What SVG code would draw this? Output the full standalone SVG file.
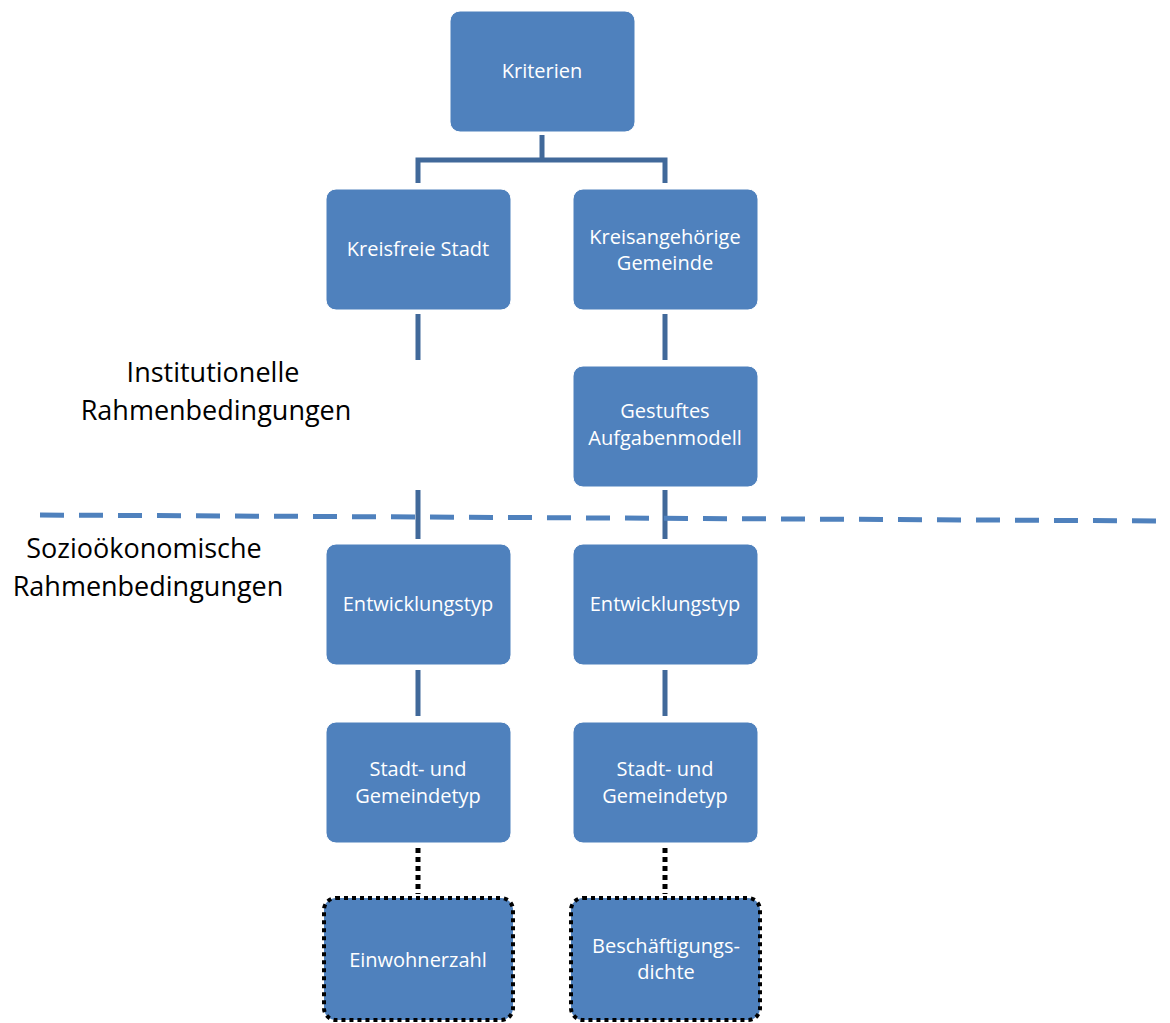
<svg xmlns="http://www.w3.org/2000/svg" width="1170" height="1023" viewBox="0 0 1170 1023">
<style>
.box{fill:#4F81BD;stroke:#ffffff;stroke-width:1}
.dotbox{fill:#4F81BD;stroke:#000000;stroke-width:4;stroke-dasharray:4 4}
.nt{font-family:"Open Sans","Liberation Sans",sans-serif;font-size:20px;fill:#ffffff;text-anchor:middle}
.lbl{font-family:"Open Sans","Liberation Sans",sans-serif;font-size:27px;fill:#000000;text-anchor:middle}
.con{stroke:#41699A;stroke-width:5;fill:none}
.dot{stroke:#000000;stroke-width:5;stroke-dasharray:5 4;fill:none}
.sep{stroke:#4F81BD;stroke-width:5;stroke-dasharray:24 15;fill:none}
</style>
<rect width="1170" height="1023" fill="#ffffff"/>
<g id="connectors">
<path class="con" d="M542 135 V160 M418 183 V160 H665 V183"/>
<path class="con" d="M418 314 V360 M418 490 V539"/>
<path class="con" d="M665 314 V360 M665 490 V539"/>
<path class="con" d="M418 670 V716 M665 670 V716"/>
<path class="dot" d="M418 848 V894 M665 848 V894"/>
</g>
<line id="separator" class="sep" x1="40" y1="515" x2="1170" y2="521"/>
<g id="label-institutionell">
<text class="lbl" x="213" y="382">Institutionelle</text>
<text class="lbl" x="216" y="420">Rahmenbedingungen</text>
</g>
<g id="label-soziooekonomisch">
<text class="lbl" x="144" y="558">Sozioökonomische</text>
<text class="lbl" x="148" y="596">Rahmenbedingungen</text>
</g>
<g id="n-kriterien"><rect class="box" x="450" y="11" width="185" height="121" rx="10"/><text class="nt" x="542" y="78">Kriterien</text></g>
<g id="n-kreisfrei"><rect class="box" x="326" y="189" width="185" height="121" rx="10"/><text class="nt" x="418" y="256">Kreisfreie Stadt</text></g>
<g id="n-kreisangehoerig"><rect class="box" x="573" y="189" width="185" height="121" rx="10"/><text class="nt" x="665" y="244">Kreisangehörige</text><text class="nt" x="665" y="270">Gemeinde</text></g>
<g id="n-gestuft"><rect class="box" x="573" y="366" width="185" height="121" rx="10"/><text class="nt" x="665" y="418">Gestuftes</text><text class="nt" x="665" y="445">Aufgabenmodell</text></g>
<g id="n-entw-l"><rect class="box" x="326" y="544" width="185" height="121" rx="10"/><text class="nt" x="418" y="611">Entwicklungstyp</text></g>
<g id="n-entw-r"><rect class="box" x="573" y="544" width="185" height="121" rx="10"/><text class="nt" x="665" y="611">Entwicklungstyp</text></g>
<g id="n-stadt-l"><rect class="box" x="326" y="722" width="185" height="121" rx="10"/><text class="nt" x="418" y="776">Stadt- und</text><text class="nt" x="418" y="803">Gemeindetyp</text></g>
<g id="n-stadt-r"><rect class="box" x="573" y="722" width="185" height="121" rx="10"/><text class="nt" x="665" y="776">Stadt- und</text><text class="nt" x="665" y="803">Gemeindetyp</text></g>
<g id="n-einwohner"><rect class="dotbox" x="324" y="898" width="189" height="122" rx="12"/><text class="nt" x="418" y="967">Einwohnerzahl</text></g>
<g id="n-beschaeftigung"><rect class="dotbox" x="571" y="898" width="189" height="122" rx="12"/><text class="nt" x="666" y="953">Beschäftigungs-</text><text class="nt" x="666" y="979">dichte</text></g>
</svg>
